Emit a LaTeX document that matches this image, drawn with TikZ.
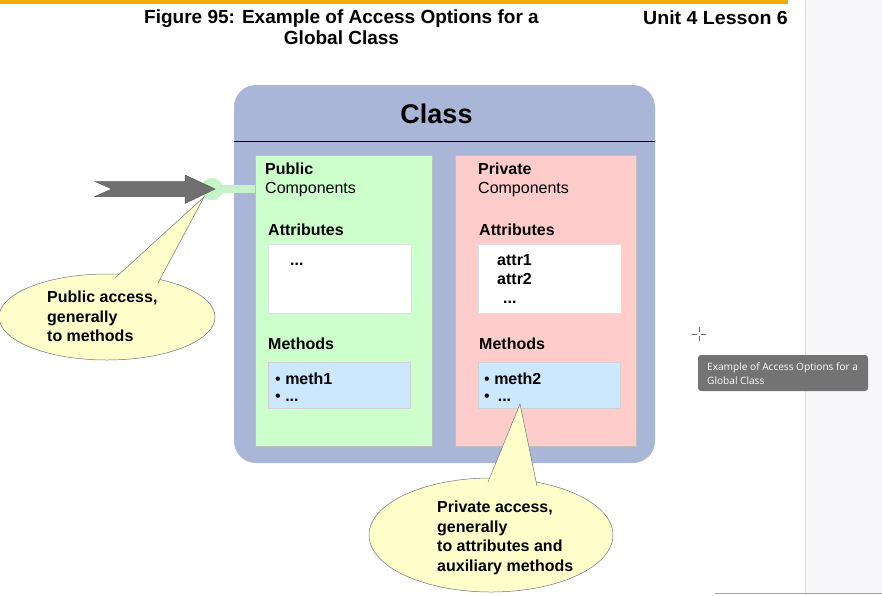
\documentclass[tikz,border=0pt]{standalone}
\usepackage{fontspec}
\setmainfont{Liberation Sans}
\newfontfamily\tipfont{Open Sans}
\usetikzlibrary{shapes.geometric,positioning,calc}

\definecolor{sapgold}{RGB}{240,171,0}
\definecolor{classblue}{RGB}{170,182,215}
\definecolor{pubgreen}{RGB}{204,255,204}
\definecolor{privpink}{RGB}{255,204,204}
\definecolor{methblue}{RGB}{204,232,255}
\definecolor{noteyellow}{RGB}{255,255,204}
\definecolor{pingreen}{RGB}{200,242,200}
\definecolor{arrowgray}{RGB}{112,112,112}
\definecolor{tipgray}{RGB}{115,115,115}
\definecolor{panelgray}{RGB}{247,247,250}

\begin{document}
\begin{tikzpicture}[x=1pt, y=-1pt,
  every node/.style={inner sep=0pt, font=\fontsize{16}{19}\selectfont},
  frame/.style={rectangle, fill=classblue, rounded corners=22pt},
  area/.style={rectangle, draw=black!25, line width=0.6pt, minimum height=291},
  slot/.style={rectangle, fill=white, draw=black!12, minimum width=143, minimum height=69},
  methbox/.style={rectangle, fill=methblue, draw=black!18, minimum width=142, minimum height=46},
  head/.style={anchor=base west, font=\bfseries\fontsize{16}{19}\selectfont},
  txt/.style={anchor=base west},
  callout/.style={ellipse, fill=noteyellow, draw=black!55, line width=0.5pt},
  note/.style={anchor=west, align=left, font=\bfseries\fontsize{16}{19.5}\selectfont},
  link/.style={pingreen, line width=8pt},
  pinball/.style={circle, fill=pingreen, minimum size=22pt}
]
\useasboundingbox (0,0) rectangle (882,595);

% page frame
\fill[panelgray] (805,0) rectangle (882,595);
\draw[black!12] (805,0) -- (805,595);
\draw[black!35] (715,593.5) -- (882,593.5);
\fill[sapgold] (0,0) rectangle (788,4);
\node[anchor=north, align=center, font=\bfseries\fontsize{19}{21}\selectfont] (title) at (341.5,10)
  {Figure 95: Example of Access Options for a\\Global Class};
\node[anchor=base east, font=\bfseries\fontsize{19}{21}\selectfont] (unit) at (788,24)
  {\scalebox{1.03}[1]{Unit 4 Lesson 6}};

% class
\node[frame, minimum width=421, minimum height=378] (cls) at (444.5,274) {};
\node[anchor=base, font=\bfseries\fontsize{27}{30}\selectfont] (clsname) at (436.5,123) {Class};
\draw[black, line width=0.8pt] (cls.west |- 0,141.7) -- (cls.east |- 0,141.7);

% public part
\node[area, fill=pubgreen, minimum width=177] (pub) at (343.5,300.5) {};
\node[head] (pubhead) at (265,174) {Public};
\node[txt] (pubcomp) at (265,193) {Components};
\node[head] (pubattr) at (268,235) {Attributes};
\node[slot] (pubslot) at (339.5,278.5) {};
\node[head] (pubdots) at (290,265) {...};
\node[head] (pubmeth) at (268,349) {Methods};
\node[methbox] (pubmbox) at (339,385) {};
\node[head] (pubm1) at (275,384) {{\mdseries\textbullet} meth1};
\node[head] (pubm2) at (275,401) {{\mdseries\textbullet} ...};

% private part
\node[area, fill=privpink, minimum width=181] (priv) at (545.5,300.5) {};
\node[head] (privhead) at (478,174) {Private};
\node[txt] (privcomp) at (478,193) {Components};
\node[head] (privattr) at (479,235) {Attributes};
\node[slot] (privslot) at (549.5,278.5) {};
\node[head] (attr1) at (497,265) {attr1};
\node[head] (attr2) at (497,284) {attr2};
\node[head] (privdots) at (503,303) {...};
\node[head] (privmeth) at (479,349) {Methods};
\node[methbox] (privmbox) at (549,385.5) {};
\node[head] (privm1) at (484,384) {{\mdseries\textbullet} meth2};
\node[head] (privm2) at (484,401) {{\mdseries\textbullet}\hspace{8pt}...};

% access point
\node[pinball] (pin) at (212,189) {};
\draw[link] (pin.center) -- (pin.center -| pub.west);
\node[pinball] at (pin) {};
\fill[arrowgray, draw=black!65, line width=0.5pt] (95,181.5) -- (185,181.5) -- (185,175)
  -- ([xshift=3pt]pin.center) -- (185,203.5) -- (185,196.5) -- (95,196.5) -- (112,189) -- cycle;

% callouts
\node[callout, minimum width=216, minimum height=86] (pubcall) at (107,317) {};
\fill[noteyellow] (115,278) -- (pin.225) -- (158,283) -- cycle;
\draw[black!55, line width=0.5pt] (115,278) -- (pin.225) -- (158,283);
\node[note] (pubnote) at (47,316.5) {Public access,\\generally\\to methods};

\coordinate (privtip) at (520,404);
\node[callout, minimum width=244, minimum height=114] (privcall) at (491,535) {};
\fill[noteyellow] (488,482) -- (privtip) -- (537,486) -- cycle;
\draw[black!55, line width=0.5pt] (488,482) -- (privtip) -- (537,486);
\node[note] (privnote) at (437,538) {Private access,\\generally\\to attributes and\\auxiliary methods};

% tooltip and cursor
\draw[black!60, line width=0.6pt] (692,334) -- (697,334) (701,334) -- (706,334)
  (699,327) -- (699,332) (699,336) -- (699,341);
\node[rectangle, fill=tipgray, rounded corners=3pt, minimum width=170, minimum height=36] (tip) at (783,373) {};
\node[anchor=west, align=left, text=white, font=\tipfont\fontsize{10.1}{14}\selectfont] (tiptext) at (707,373.5)
  {Example of Access Options for a\\Global Class};
\end{tikzpicture}
\end{document}
